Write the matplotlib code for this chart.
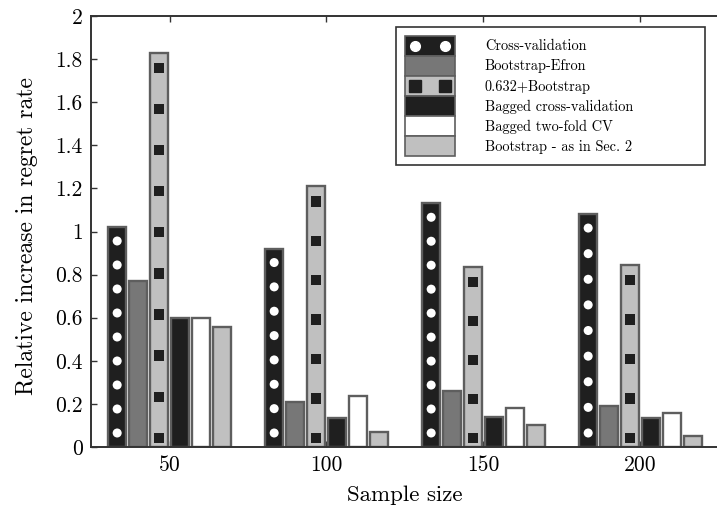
import numpy as np
import matplotlib
matplotlib.use('Agg')
import matplotlib.pyplot as plt
from matplotlib.patches import Patch, Rectangle
from matplotlib.lines import Line2D
from matplotlib.legend_handler import HandlerBase

plt.rcParams['font.family'] = ['cmr10', 'DejaVu Serif']
plt.rcParams['mathtext.fontset'] = 'cm'
plt.rcParams['axes.formatter.use_mathtext'] = True

sample_sizes = [50, 100, 150, 200]
methods = ['Cross-validation', 'Bootstrap-Efron', '0.632+Bootstrap',
           'Bagged cross-validation', 'Bagged two-fold CV',
           'Bootstrap - as in Sec. 2']

# relative increase in regret rate, one list per method (over sample sizes)
cross_val = [1.02, 0.92, 1.13, 1.08]
boot_efron = [0.77, 0.21, 0.26, 0.19]
boot_632 = [1.83, 1.21, 0.835, 0.845]
bagged_cv = [0.60, 0.135, 0.14, 0.135]
bagged_2fold = [0.60, 0.237, 0.18, 0.16]
boot_sec2 = [0.555, 0.068, 0.10, 0.052]
series = [cross_val, boot_efron, boot_632, bagged_cv, bagged_2fold, boot_sec2]

yticks = [0, 0.2, 0.4, 0.6, 0.8, 1, 1.2, 1.4, 1.6, 1.8, 2]
ytick_labels = ['0', '0.2', '0.4', '0.6', '0.8', '1', '1.2', '1.4', '1.6', '1.8', '2']

DARK = '#1f1f1f'
MID = '#777777'
LIGHT = '#c0c0c0'
EDGE = '#5e5e5e'
faces = [DARK, MID, LIGHT, DARK, 'white', LIGHT]


def fill_positions(h, lo, hi_gap, step):
    """Evenly spaced marker heights inside a bar of height h."""
    hi = h - hi_gap
    if hi <= lo:
        return np.array([lo])
    count = int(round((hi - lo) / step)) + 1
    return np.linspace(lo, hi, count)


class PatternHandler(HandlerBase):
    """Legend swatch: filled rectangle with two markers on it."""
    def __init__(self, marker=None, mcolor='white', msize=6):
        super().__init__()
        self.marker = marker
        self.mcolor = mcolor
        self.msize = msize

    def create_artists(self, legend, orig_handle, xdescent, ydescent,
                       width, height, fontsize, trans):
        rect = Rectangle((-xdescent, -ydescent), width, height,
                         facecolor=orig_handle.get_facecolor(),
                         edgecolor=orig_handle.get_edgecolor(),
                         lw=orig_handle.get_linewidth(), transform=trans)
        out = [rect]
        if self.marker:
            xs = [-xdescent + width * 0.2, -xdescent + width * 0.8]
            ys = [-ydescent + height / 2] * 2
            out.append(Line2D(xs, ys, marker=self.marker, ls='none',
                              mfc=self.mcolor, mec=self.mcolor,
                              ms=self.msize, transform=trans))
        return out


fig = plt.figure(figsize=(7.17, 5.13), dpi=100)
ax = fig.add_axes([91 / 717, 66 / 513, 628 / 717, 431 / 513])

n = len(series)
pitch = 0.8 / n
width = 0.118
x = np.arange(1, len(sample_sizes) + 1)

for j, vals in enumerate(series):
    xpos = x + (j - (n - 1) / 2) * pitch
    ax.bar(xpos, vals, width=width, color=faces[j], edgecolor=EDGE,
           linewidth=1.7, zorder=2)

    # white dots on the cross-validation bars
    if j == 0:
        for xp, h in zip(xpos, vals):
            ys = fill_positions(h, 0.065, 0.064, 0.112)
            ax.scatter(np.full(len(ys), xp), ys, s=6.5 ** 2, marker='o',
                       color='white', edgecolors='none', zorder=3)
    # black squares on the 0.632+ bars
    if j == 2:
        for xp, h in zip(xpos, vals):
            ys = fill_positions(h, 0.042, 0.07, 0.185)
            ax.scatter(np.full(len(ys), xp), ys, s=7.5 ** 2, marker='s',
                       color=DARK, edgecolors='none', zorder=3)

ax.set_xlim(0.5, 4.5)
ax.set_ylim(0, 2)
ax.set_xticks(x)
ax.set_xticklabels([str(s) for s in sample_sizes])
ax.set_yticks(yticks)
ax.set_yticklabels(ytick_labels)
ax.tick_params(direction='in', length=4, width=1, color='#333333',
               labelsize=15.5, top=True, right=False, pad=6)
for sp in ax.spines.values():
    sp.set_color('#333333')
    sp.set_linewidth(1.4)

ax.set_xlabel('Sample size', fontsize=16.5, labelpad=8)
ax.set_ylabel('Relative increase in regret rate', fontsize=17, labelpad=8)
ax.yaxis.set_label_coords(-0.085, 0.49)

handles = [Patch(facecolor=f, edgecolor=EDGE, linewidth=1.2) for f in faces]
hmap = {handles[0]: PatternHandler('o', 'white', 7),
        handles[2]: PatternHandler('s', DARK, 8.5)}
for h in handles[1:2] + handles[3:]:
    hmap[h] = PatternHandler()

leg = ax.legend(handles, methods, handler_map=hmap,
                bbox_to_anchor=(0.486, 0.652, 0.492, 0.322),
                loc='upper left', mode='expand', borderaxespad=0,
                fontsize=10.3, handlelength=3.5, handleheight=1.78,
                handletextpad=2.1, labelspacing=0, borderpad=0.6,
                fancybox=False, framealpha=1)
leg.get_frame().set_edgecolor('#333333')
leg.get_frame().set_linewidth(1.2)

fig.savefig('out.png', dpi=100)
